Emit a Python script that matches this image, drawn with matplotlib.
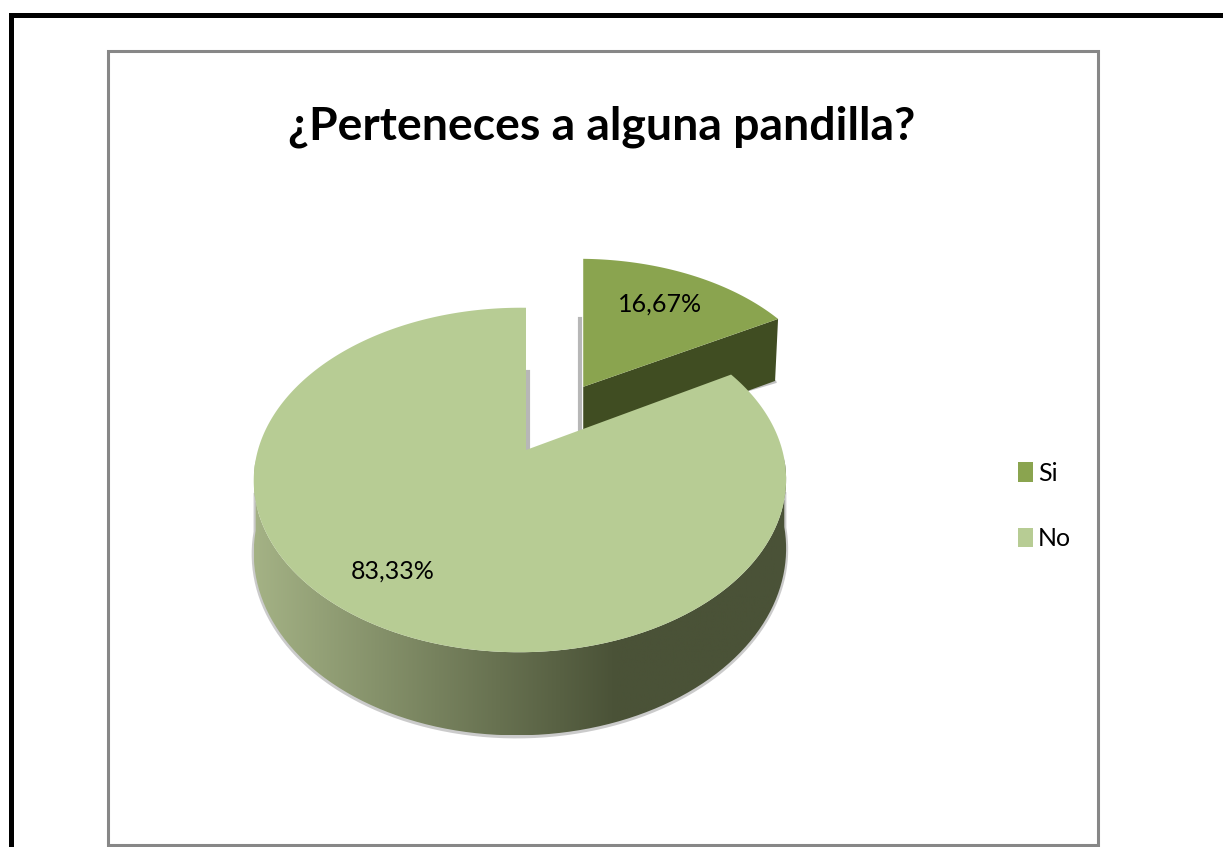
import numpy as np
import matplotlib
matplotlib.use('Agg')
import matplotlib.pyplot as plt
from matplotlib.colors import LinearSegmentedColormap
from matplotlib.patches import Patch, PathPatch, Polygon, Rectangle
from matplotlib.path import Path

title = '¿Perteneces a alguna pandilla?'
categories = ['Si', 'No']
values = [16.67, 83.33]
explode = [0.47, 0]
colors = ['#8aa44f', '#b7cc94']

FONT = ['Lato', 'DejaVu Sans']
W, H = 1223, 847

# perspective of the disc, in pixels
APEX_X, APEX_Y = 526, 450
SX, SY = 262, 167
P, Q = 0.174, 0.0225
DEPTH = 68.6


def warp(x, y):
    d = 1 + P * y + Q * x
    return APEX_X + SX * x / d, APEX_Y - SY * y / d


def drop(x, y):
    # height of the side wall below a point of the disc
    return DEPTH / (1 + P * y + Q * x)


def arc(wedge, n=240):
    t = np.radians(np.linspace(wedge.theta1, wedge.theta2, n))
    return wedge.r * np.cos(t), wedge.r * np.sin(t)


fig = plt.figure(figsize=(W / 100, H / 100), dpi=100)
ax = fig.add_axes([0, 0, 1, 1])

wedges, _, pcts = ax.pie(values, explode=explode, colors=colors, startangle=90,
                         counterclock=False,
                         autopct=lambda p: f'{p:.2f}'.replace('.', ',') + '%')
ax.set_aspect('auto')
ax.axis('off')
ax.set_xlim(0, W)
ax.set_ylim(H, 0)

# outer frames
ax.add_patch(Rectangle((107.5, 51.5), 990.5, 794, fc='white', ec='#878787', lw=2.2, zorder=1))
ax.plot([10.5, 10.5, W], [H, 15.5, 15.5], color='black', lw=3.6, solid_joinstyle='miter', zorder=1)

si, no = wedges
si.remove()
no.remove()

# Si: top face and the cut face towards the viewer
ux, uy = arc(si)
x0, y0 = warp(*si.center)
xa, ya = warp(ux, uy)
xa = x0 + 0.95 * (xa - APEX_X)
ya = y0 + 0.9 * (ya - APEX_Y)
end = np.argmin(uy)  # arc end nearest the front
xr, yr = xa[end], ya[end]
dr = drop(ux[end], uy[end])
d0 = drop(*si.center)
ax.add_patch(Polygon([(x0, y0), (xr, yr), (xr - 3, yr + dr), (x0, y0 + d0)],
                     fc='#404d22', ec='none', zorder=3))
ax.plot([xr - 3, xr - 30], [yr + dr + 1, yr + dr + 9], color='#999999', lw=2, alpha=0.6, zorder=2.5)
ax.plot([x0 - 3, x0 - 3], [y0 - 68, y0 + d0], color='#999999', lw=3, alpha=0.7, zorder=2.5)
ax.add_patch(Polygon(np.column_stack([np.r_[x0, xa], np.r_[y0, ya]]),
                     fc=si.get_facecolor(), ec='none', zorder=4))

# No: side wall with a horizontal gradient, then the top face
ux, uy = arc(no, 480)
xn, yn = warp(ux, uy)
front = uy < -0.05
xf, yf = xn[front], yn[front]
yb = yf + drop(ux[front], uy[front])
wall = np.column_stack([np.r_[xf, xf[::-1]], np.r_[yf, yb[::-1]]])
ax.plot(np.r_[xf[0], xf, xf[-1]], np.r_[yf[0] + 35, yb + 1, yf[-1] + 35],
        color='#555555', lw=3, alpha=0.3, zorder=4.5)
side_cmap = LinearSegmentedColormap.from_list(
    'side', [(0, '#a4b285'), (0.68, '#4a5237'), (1, '#4a5237')])
img = ax.imshow(np.linspace(0, 1, 256)[None, :], cmap=side_cmap, aspect='auto',
                extent=(xn.min(), xn.max(), yb.max(), yf.min()), zorder=5)
img.set_clip_path(PathPatch(Path(wall), transform=ax.transData))
ax.set_xlim(0, W)
ax.set_ylim(H, 0)

ax.plot([APEX_X + 2, APEX_X + 2], [372, APEX_Y], color='#999999', lw=3, alpha=0.7, zorder=5)
ax.add_patch(Polygon(np.column_stack([np.r_[APEX_X, xn], np.r_[APEX_Y, yn]]),
                     fc=no.get_facecolor(), ec='none', zorder=6))

# percent labels
pcts[0].set_position((660, 304))
pcts[1].set_position((393, 571))
for t in pcts:
    t.set_family(FONT)
    t.set_fontsize(18)
    t.set_color('black')
    t.set_zorder(7)

ax.text(602, 127, title, family=FONT, fontsize=33.4, fontweight='bold',
        ha='center', va='center', zorder=7)

handles = [Patch(fc=c, ec='none', label=k) for c, k in zip(colors, categories)]
leg = ax.legend(handles=handles, loc='center left', bbox_to_anchor=(995 / W, 1 - 506 / H),
                bbox_transform=fig.transFigure, frameon=False, handlelength=0.6,
                handleheight=0.8, handletextpad=0.22, labelspacing=1.7,
                prop={'family': FONT, 'size': 18})
leg.set_zorder(7)

fig.savefig('out.png', dpi=100)
